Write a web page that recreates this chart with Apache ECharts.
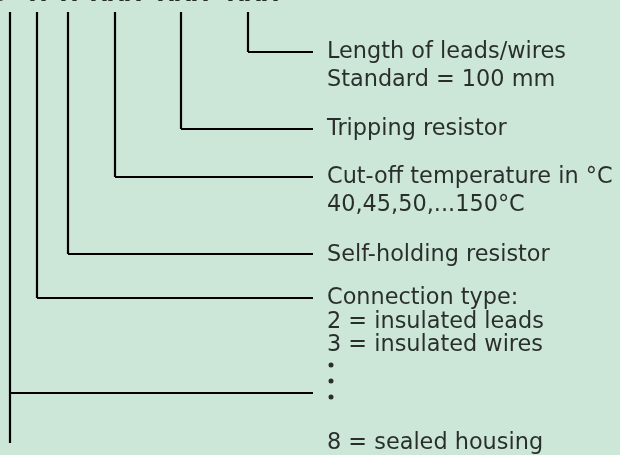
<!DOCTYPE html>
<html><head><meta charset="utf-8">
<script src="https://cdn.jsdelivr.net/npm/echarts@6/dist/echarts.min.js"></script>
<style>html,body{margin:0;padding:0;background:#cce6d8;}#c{width:620px;height:455px;}</style>
</head><body><div id="c"></div>
<script>
// Code segments printed at the top and their horizontal positions (diagram units = px)
const codeSegments = ['S', 'X', 'X', 'XXX', 'XXX', 'XXX'];
const codeX = [-1, 38, 69, 116, 183, 253];
// Leader lines: x of vertical stem, y of horizontal branch
const leaderX = [10, 37, 68, 115, 181, 248];
const leaderY = [393, 298, 254, 177, 129, 52];
const leaderTop = 12;
const leaderEnd = 313;
const stemBottom = 443;
// Description texts: [y, text]
const descY = [52, 80, 129, 177, 205, 255, 298, 322, 345, 443];
const descText = [
  'Length of leads/wires',
  'Standard = 100 mm',
  'Tripping resistor',
  'Cut-off temperature in °C',
  '40,45,50,...150°C',
  'Self-holding resistor',
  'Connection type:',
  '2 = insulated leads',
  '3 = insulated wires',
  '8 = sealed housing'
];
const dotY = [365, 381, 397];
const textX = 327;

const chart = echarts.init(document.getElementById('c'), null, {renderer: 'canvas'});
const series = [];
leaderX.forEach((x, i) => {
  const bottom = i === 0 ? stemBottom : leaderY[i];
  series.push({
    type: 'line', data: [[x, leaderTop], [x, bottom]], symbol: 'none', silent: true,
    lineStyle: {color: '#000', width: 2.2}, animation: false
  });
  series.push({
    type: 'line', data: [[x, leaderY[i]], [leaderEnd, leaderY[i]]], symbol: 'none', silent: true,
    lineStyle: {color: '#000', width: 2.2}, animation: false
  });
});
series.push({
  type: 'scatter', symbolSize: 0, animation: false, silent: true, clip: false,
  data: descY.map((y, i) => ({value: [textX, y], name: descText[i]})),
  label: {show: true, position: 'right', distance: 0, formatter: p => p.name,
    color: '#000', fontSize: 22.4, fontFamily: 'DejaVu Sans', textBorderWidth: 0}
});
series.push({
  type: 'scatter', symbol: 'circle', symbolSize: 5, animation: false, silent: true,
  itemStyle: {color: '#000'},
  data: dotY.map(y => [textX + 4, y])
});
series.push({
  type: 'scatter', symbolSize: 0, animation: false, silent: true, clip: false,
  data: codeSegments.map((s, i) => ({value: [codeX[i], -4.6], name: s})),
  label: {show: true, position: 'inside', formatter: p => p.name,
    color: '#000', fontSize: 22, fontWeight: 'bold', fontFamily: 'DejaVu Sans', textBorderWidth: 0}
});

chart.setOption({
  backgroundColor: '#cce6d8',
  animation: false,
  grid: {left: 0, right: 0, top: 0, bottom: 0},
  xAxis: {type: 'value', min: 0, max: 620, show: false},
  yAxis: {type: 'value', min: 0, max: 455, inverse: true, show: false},
  series: series
});
</script></body></html>
